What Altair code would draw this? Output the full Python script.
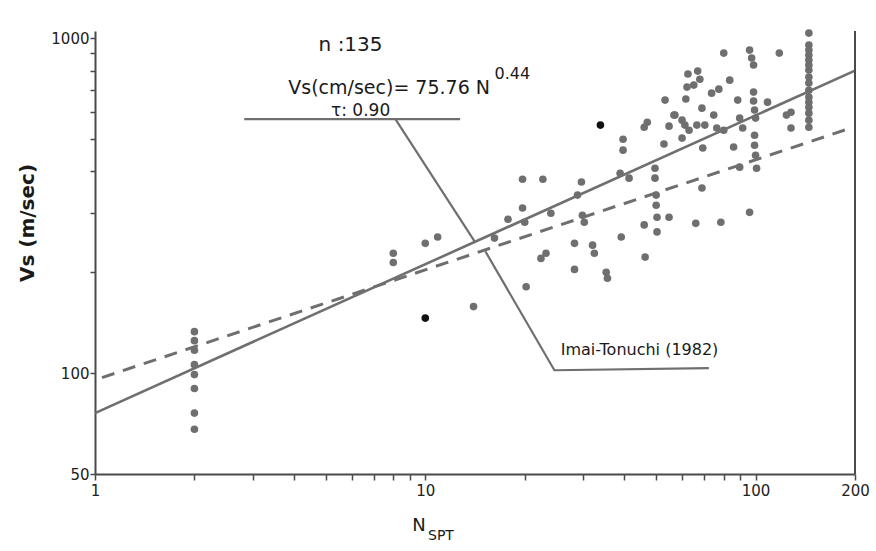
import altair as alt
import pandas as pd

# ---- data (N_SPT, Vs in m/sec) ----
n_col2 = [2, 2, 2, 2, 2, 2, 2, 2]
vs_col2 = [133, 125, 117, 106, 99, 90, 76, 68]

n_low = [8, 8, 10, 10.9, 14, 16.2, 19.7, 22.7, 19.7, 17.8, 20, 20.2, 22.4, 23.2, 24]
vs_low = [228, 214, 244, 255, 158, 253, 379, 379, 311, 288, 282, 181, 220, 228, 300]

n_mid = [29.7, 28.9, 29.9, 30.3, 28.3, 32.1, 32.5, 28.3, 35.3, 35.6,
         39.7, 39.7, 38.9, 41.4, 39.2, 46.3, 46, 50.3, 50.3, 54.7,
         50, 50, 49.6, 49.6, 52.8, 47, 46, 53.2, 56.6, 54.7]
vs_mid = [372, 340, 296, 282, 244, 241, 228, 204, 200, 192,
          499, 463, 395, 382, 255, 222, 277, 264, 292, 292,
          340, 317, 409, 382, 483, 561, 542, 653, 589, 546]

n_high = [80.1, 95.9, 97.3, 98.6, 118, 62.4, 66.8, 67.8, 83.5, 62,
          65, 73.6, 77.4, 61.5, 88.3, 98.6, 98.6, 99.3, 100, 68.8,
          108.7, 57, 59.9, 61.1, 62.9, 66.4, 70.2, 74.7, 76.3, 80.1,
          89.5, 91.4, 124, 128, 128, 59.9, 69.2, 85.8, 99.3, 99.3,
          100, 100.7, 68.8, 89.5, 95.9, 65.9, 78.5]
vs_high = [902, 921, 872, 831, 902, 781, 797, 754, 749, 714,
           724, 685, 704, 658, 653, 690, 649, 610, 577, 618,
           644, 589, 569, 550, 531, 550, 550, 589, 539, 531,
           577, 539, 589, 601, 539, 503, 470, 473, 513, 479,
           447, 409, 357, 412, 302, 280, 282]

n_col150 = [145] * 16
vs_col150 = [1035, 953, 921, 890, 860, 831, 803, 765, 734, 699, 667, 644, 622, 597, 569, 542]

n_black = [10, 33.9]
vs_black = [146, 550]

fit_n = [1, 200]
fit_vs = [76, 800]
imai_n = [1.05, 190]
imai_vs = [97, 535]

# annotation leader lines (data coordinates)
lead_n = [2.83, 12.75, 8.12, 14.15, 15.2, 24.6, 72.2]
lead_vs = [573, 573, 573, 246, 231, 102, 103.5]
lead_seg = ["a", "a", "b", "b", "c", "c", "c"]

x_ticks = [1, 2, 3, 4, 5, 6, 7, 8, 9, 10, 20, 30, 40, 50, 60, 70, 80, 90, 100, 200]
y_ticks = [50, 100, 200, 300, 400, 500, 600, 700, 800, 900, 1000]

# ---- frames ----
pts = pd.DataFrame({"N": n_col2 + n_low + n_mid + n_high + n_col150,
                    "Vs": vs_col2 + vs_low + vs_mid + vs_high + vs_col150})
blk = pd.DataFrame({"N": n_black, "Vs": vs_black})
fit = pd.DataFrame({"N": fit_n, "Vs": fit_vs})
imai = pd.DataFrame({"N": imai_n, "Vs": imai_vs})
lead = pd.DataFrame({"N": lead_n, "Vs": lead_vs, "seg": lead_seg,
                     "o": list(range(len(lead_n)))})

GRAY = "#6f6f6f"
AX = "#4a4a4a"
FONT = "DejaVu Sans"

xscale = alt.Scale(type="log", domain=[1, 200], nice=False)
yscale = alt.Scale(type="log", domain=[50, 1050], nice=False)

xax = alt.Axis(values=x_ticks, title=None, grid=False,
               labelExpr="(datum.value == 1 || datum.value == 10 || datum.value == 100 || datum.value == 200) ? format(datum.value, 'd') : ''",
               tickSize=6, labelPadding=3, labelFontSize=15, labelFont=FONT,
               labelColor="#222", domainColor=AX, domainWidth=2, tickColor=AX,
               tickWidth=1.5, labelFlush=False)
yax = alt.Axis(values=y_ticks, title=None, grid=False,
               labelExpr="(datum.value == 50 || datum.value == 100 || datum.value == 1000) ? format(datum.value, 'd') : ''",
               tickSize=5, labelPadding=1, labelFontSize=15, labelFont=FONT,
               labelColor="#222", domainColor=AX, domainWidth=2, tickColor=AX,
               tickWidth=1.5, labelFlush=False)

base = alt.Chart(pts)

points = base.mark_circle(size=58, color=GRAY, opacity=1).encode(
    x=alt.X("N:Q", scale=xscale, axis=xax),
    y=alt.Y("Vs:Q", scale=yscale, axis=yax))

black = alt.Chart(blk).mark_circle(size=58, color="#111", opacity=1).encode(
    x=alt.X("N:Q", scale=xscale), y=alt.Y("Vs:Q", scale=yscale))

fit_line = alt.Chart(fit).mark_line(color=GRAY, strokeWidth=2.6).encode(
    x=alt.X("N:Q", scale=xscale), y=alt.Y("Vs:Q", scale=yscale))

imai_line = alt.Chart(imai).mark_line(color=GRAY, strokeWidth=3, strokeDash=[13, 9]).encode(
    x=alt.X("N:Q", scale=xscale), y=alt.Y("Vs:Q", scale=yscale))

leaders = alt.Chart(lead).mark_line(color=GRAY, strokeWidth=2.2).encode(
    x=alt.X("N:Q", scale=xscale), y=alt.Y("Vs:Q", scale=yscale),
    detail="seg:N", order="o:Q")

frame = alt.Chart(pd.DataFrame({"N": [200], "a": [50], "b": [1050]})).mark_rule(
    color=AX, strokeWidth=2).encode(
    x=alt.X("N:Q", scale=xscale), y=alt.Y("a:Q", scale=yscale), y2="b:Q")


def label(n, v, txt, size, align="center", color="#1a1a1a"):
    return alt.Chart(pd.DataFrame({"N": [n], "Vs": [v], "t": [txt]})).mark_text(
        font=FONT, fontSize=size, align=align, baseline="middle", color=color).encode(
        x=alt.X("N:Q", scale=xscale), y=alt.Y("Vs:Q", scale=yscale), text="t:N")


t_n = label(5.94, 953, "n :135", 20)
t_eq = label(15.7, 709, "Vs(cm/sec)= 75.76 N", 19, align="right")
t_sup = label(16.2, 781, "0.44", 16, align="left")
t_tau = label(6.37, 606, "τ: 0.90", 17)
t_imai = label(25.7, 117, "Imai-Tonuchi (1982)", 16, align="left")

ytitle = alt.Chart(pd.DataFrame({"t": ["Vs (m/sec)"]})).mark_text(
    font=FONT, fontSize=20, fontWeight="bold", angle=270, align="center",
    baseline="middle", color="#1a1a1a").encode(
    x=alt.value(-67), y=alt.value(192), text="t:N")
xtitle_n = alt.Chart(pd.DataFrame({"t": ["N"]})).mark_text(
    font=FONT, fontSize=18, align="center", baseline="middle", color="#1a1a1a").encode(
    x=alt.value(324), y=alt.value(495), text="t:N")
xtitle_s = alt.Chart(pd.DataFrame({"t": ["SPT"]})).mark_text(
    font=FONT, fontSize=14, align="left", baseline="middle", color="#1a1a1a").encode(
    x=alt.value(333), y=alt.value(505), text="t:N")

chart = alt.layer(points, fit_line, imai_line, leaders, frame, black,
                  t_n, t_eq, t_sup, t_tau, t_imai, ytitle, xtitle_n, xtitle_s).properties(
    width=760, height=443,
    padding={"left": 95, "top": 31, "right": 21, "bottom": 77},
    autosize=alt.AutoSizeParams(type="none"),
    background="white"
).configure_view(stroke=None)

chart.save("out.html", embed_options={"renderer": "svg", "actions": False})
